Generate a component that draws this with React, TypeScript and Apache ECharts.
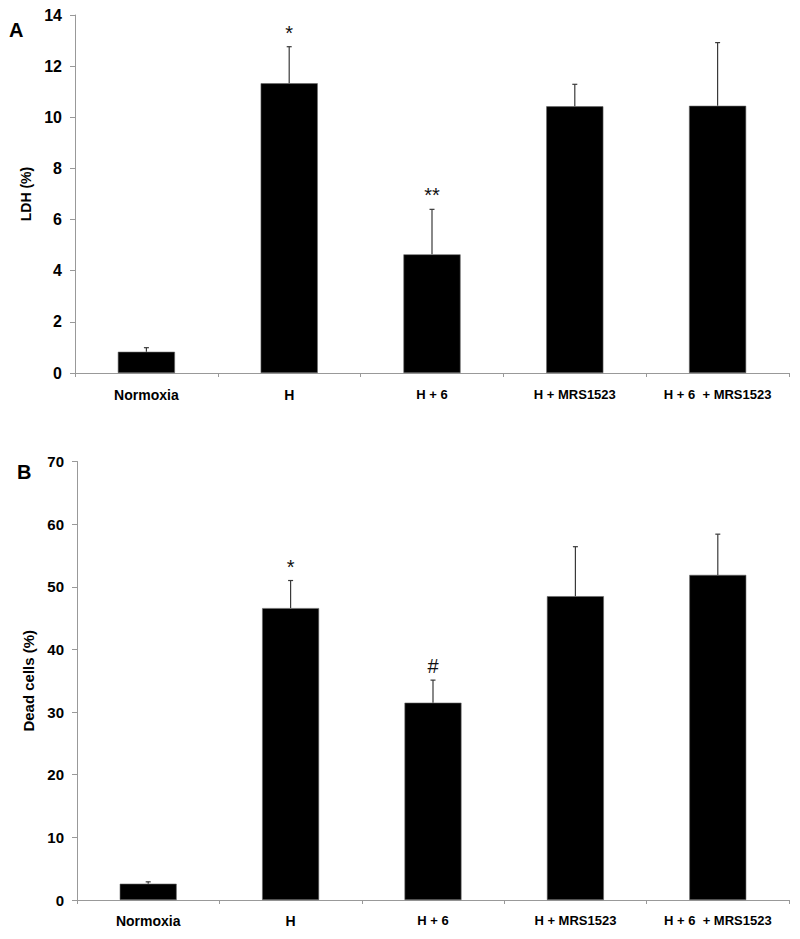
import React, { useEffect, useRef } from "react";
import * as echarts from "echarts";

const categories = ["Normoxia", "H", "H + 6", "H + MRS1523", "H + 6  + MRS1523"];
const ldhValues = [0.83, 11.33, 4.64, 10.43, 10.45];
const ldhErrors = [0.16, 1.43, 1.76, 0.86, 2.47];
const ldhMarks = ["", "*", "**", "", ""];
const deadValues = [2.6, 46.6, 31.5, 48.5, 51.9];
const deadErrors = [0.3, 4.4, 3.6, 7.9, 6.5];
const deadMarks = ["", "*", "#", "", ""];

const FONT = "'Liberation Sans', Arial, sans-serif";

function errorSeries(axisIndex: number, values: number[], errors: number[], marks: string[]) {
  return {
    type: "custom",
    xAxisIndex: axisIndex,
    yAxisIndex: axisIndex,
    z: 5,
    data: values.map((v, i) => [i, v, v + errors[i]]),
    encode: { x: 0, y: [1, 2] },
    renderItem: (params: any, api: any) => {
      const i = api.value(0);
      const base = api.coord([i, api.value(1)]);
      const top = api.coord([i, api.value(2)]);
      const children: any[] = [
        {
          type: "line",
          shape: { x1: base[0], y1: base[1], x2: top[0], y2: top[1] },
          style: { stroke: "#3a3a3a", lineWidth: 1.2 },
        },
        {
          type: "line",
          shape: { x1: top[0] - 2.5, y1: top[1], x2: top[0] + 2.5, y2: top[1] },
          style: { stroke: "#3a3a3a", lineWidth: 1.2 },
        },
      ];
      const m = marks[params.dataIndex];
      if (m) {
        children.push({
          type: "text",
          style: {
            text: m,
            x: top[0],
            y: top[1] - 14,
            align: "center",
            verticalAlign: "middle",
            font: `20px ${FONT}`,
            fill: "#111",
          },
        });
      }
      return { type: "group", children };
    },
  };
}

const catLabelFormatter = (v: string) =>
  v === "Normoxia" || v === "H" ? `{a|${v}}` : `{b|${v}}`;

function xAxis(gridIndex: number, margin: number) {
  return {
    type: "category",
    gridIndex,
    data: categories,
    axisLine: { lineStyle: { color: "#999", width: 1 } },
    axisTick: { show: true, length: 4, lineStyle: { color: "#999" } },
    axisLabel: {
      interval: 0,
      margin,
      formatter: catLabelFormatter,
      rich: {
        a: { fontFamily: FONT, fontWeight: "bold", fontSize: 14, color: "#000" },
        b: { fontFamily: FONT, fontWeight: "bold", fontSize: 13, color: "#000" },
      },
    },
  };
}

function yAxis(gridIndex: number, max: number, interval: number, name: string, fontSize: number, gap: number, nameSize: number) {
  return {
    type: "value",
    gridIndex,
    min: 0,
    max,
    interval,
    name,
    nameLocation: "middle",
    nameGap: gap,
    nameRotate: 90,
    nameTextStyle: { fontFamily: FONT, fontWeight: "bold", fontSize: nameSize, color: "#000" },
    axisLine: { show: true, lineStyle: { color: "#999", width: 1 } },
    axisTick: { show: true, length: 5, inside: false, lineStyle: { color: "#999" } },
    splitLine: { show: false },
    axisLabel: { margin: 13, fontFamily: FONT, fontWeight: "bold", fontSize, color: "#000" },
  };
}

export default function App() {
  const ref = useRef<HTMLDivElement>(null);
  useEffect(() => {
    if (!ref.current) return;
    const chart = echarts.init(ref.current, null, { renderer: "svg" });
    chart.setOption({
      animation: false,
      backgroundColor: "#fff",
      grid: [
        { left: 75, top: 15, width: 714, height: 358 },
        { left: 77, top: 461.5, width: 712, height: 438.5 },
      ],
      xAxis: [xAxis(0, 15), xAxis(1, 14)],
      yAxis: [
        yAxis(0, 14, 2, "LDH (%)", 16, 40, 14),
        yAxis(1, 70, 10, "Dead cells (%)", 15, 38, 15),
      ],
      graphic: [
        { type: "text", left: 9, top: 20, style: { text: "A", font: `bold 20px ${FONT}`, fill: "#000" } },
        { type: "text", left: 17, top: 462, style: { text: "B", font: `bold 20px ${FONT}`, fill: "#000" } },
      ],
      series: [
        {
          type: "bar",
          xAxisIndex: 0,
          yAxisIndex: 0,
          data: ldhValues,
          barWidth: "40%",
          itemStyle: { color: "#000", borderColor: "#666", borderWidth: 0.6 },
        },
        errorSeries(0, ldhValues, ldhErrors, ldhMarks),
        {
          type: "bar",
          xAxisIndex: 1,
          yAxisIndex: 1,
          data: deadValues,
          barWidth: "40%",
          itemStyle: { color: "#000", borderColor: "#666", borderWidth: 0.6 },
        },
        errorSeries(1, deadValues, deadErrors, deadMarks),
      ],
    });
    return () => chart.dispose();
  }, []);
  return (
    <div
      ref={ref}
      style={{ position: "absolute", left: 0, top: 0, width: 800, height: 939, background: "#fff" }}
    />
  );
}
